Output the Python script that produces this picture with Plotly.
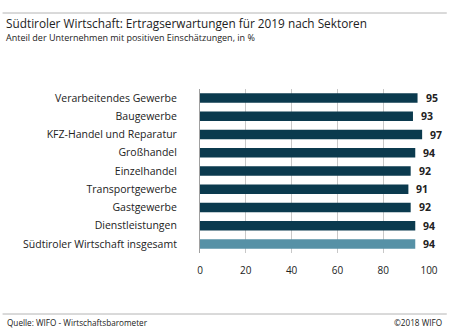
import plotly.graph_objects as go

categories = ["Verarbeitendes Gewerbe", "Baugewerbe", "KFZ-Handel und Reparatur",
              "Großhandel", "Einzelhandel", "Transportgewerbe", "Gastgewerbe",
              "Dienstleistungen", "Südtiroler Wirtschaft insgesamt"]
values = [95, 93, 97, 94, 92, 91, 92, 94, 94]
colors = ["#0b3a4e"] * 8 + ["#5691a6"]
tick_vals = [0, 20, 40, 60, 80, 100]

font = "Open Sans, Noto Sans, sans-serif"

L, R, T, B = 200, 18, 89, 76
PW = 450 - L - R
PH = 329 - T - B

def px(x):
    return (x - L) / PW

def py(y):
    return (329 - B - y) / PH

fig = go.Figure(go.Bar(
    x=values, y=categories, orientation="h",
    marker=dict(color=colors, line=dict(width=0)),
    width=0.52,
    cliponaxis=False,
))

value_annotations = [
    dict(x=v, y=c, xref="x", yref="y", text=str(v), showarrow=False,
         xanchor="left", yanchor="middle", xshift=6,
         font=dict(family=font, size=10.5, color="#222222", weight="bold"))
    for c, v in zip(categories, values)
]

fig.update_layout(
    width=450, height=329,
    margin=dict(l=L, r=R, t=T, b=B),
    paper_bgcolor="white", plot_bgcolor="white",
    showlegend=False,
    font=dict(family=font, size=10, color="#222222"),
    xaxis=dict(range=[0, 100], tickvals=tick_vals, showgrid=True,
               gridcolor="#c8c8c8", gridwidth=1, zeroline=False,
               showline=False, ticks="", tickfont=dict(size=10, color="#222222"),
               ticklabelstandoff=10),
    yaxis=dict(categoryorder="array", categoryarray=categories, autorange="reversed",
               showline=True, linecolor="#a0a0a0", linewidth=1, ticks="",
               ticklabelstandoff=20, tickfont=dict(size=10.5, color="#222222")),
    shapes=[
        dict(type="line", xref="paper", yref="paper", x0=px(0), x1=px(450),
             y0=py(13), y1=py(13), line=dict(color="#b4b4b4", width=1)),
        dict(type="line", xref="paper", yref="paper", x0=px(0), x1=px(450),
             y0=py(314), y1=py(314), line=dict(color="#b4b4b4", width=1)),
    ],
    annotations=value_annotations + [
        dict(text="Südtiroler Wirtschaft: Ertragserwartungen für 2019 nach Sektoren",
             xref="paper", yref="paper", x=px(1), y=py(23),
             xanchor="left", yanchor="middle", showarrow=False,
             font=dict(family=font, size=11.8, color="#222222")),
        dict(text="Anteil der Unternehmen mit positiven Einschätzungen, in %",
             xref="paper", yref="paper", x=px(1), y=py(38),
             xanchor="left", yanchor="middle", showarrow=False,
             font=dict(family=font, size=9, color="#222222")),
        dict(text="Quelle: WIFO - Wirtschaftsbarometer",
             xref="paper", yref="paper", x=px(2), y=py(322),
             xanchor="left", yanchor="middle", showarrow=False,
             font=dict(family=font, size=8.2, color="#222222")),
        dict(text="©2018 WIFO",
             xref="paper", yref="paper", x=px(447), y=py(322),
             xanchor="right", yanchor="middle", showarrow=False,
             font=dict(family=font, size=8.2, color="#222222")),
    ],
)

fig.write_html("out.html")
